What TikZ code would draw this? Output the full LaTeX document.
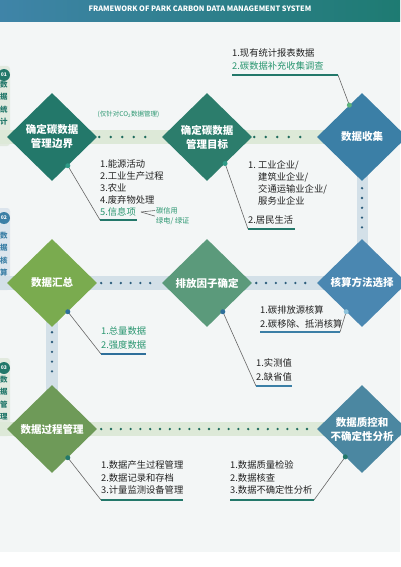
\documentclass[tikz,border=0pt]{standalone}
\usepackage{fontspec}
\setmainfont{Noto Sans CJK SC}
\usetikzlibrary{calc,positioning,shapes.geometric,backgrounds}
\definecolor{hdrL}{HTML}{3F84A8}
\definecolor{hdrR}{HTML}{1E7B72}
\definecolor{paper}{HTML}{F3F6F6}
\definecolor{tealA}{HTML}{23786A}
\definecolor{tealB}{HTML}{2C7D6C}
\definecolor{blueA}{HTML}{3B7FA6}
\definecolor{greenA}{HTML}{7AAB4F}
\definecolor{greenB}{HTML}{5B9A7B}
\definecolor{blueB}{HTML}{4A87B1}
\definecolor{greenC}{HTML}{6E9A58}
\definecolor{blueC}{HTML}{4B87A1}
\definecolor{bandG}{HTML}{DDE9D8}
\definecolor{bandB}{HTML}{D3E0E8}
\definecolor{tabG}{HTML}{E2EADF}
\definecolor{tabB}{HTML}{DCE5ED}
\definecolor{dotG}{HTML}{1E6B5C}
\definecolor{dotB}{HTML}{2C5D7C}
\definecolor{txtG}{HTML}{2A9670}
\definecolor{txtK}{HTML}{222222}
\definecolor{lineK}{HTML}{666666}
\definecolor{markG}{HTML}{5CB37C}
\definecolor{markT}{HTML}{2F9A86}
\definecolor{markB}{HTML}{2E6F9A}
\definecolor{markL}{HTML}{8FC3DB}
\tikzstyle{dia}=[diamond,minimum width=90pt,minimum height=88pt,inner sep=0pt,text=white,align=center,font=\fontsize{10.5}{14}\selectfont\bfseries]
\tikzstyle{band}=[line width=14pt]
\tikzstyle{vband}=[line width=12pt,draw=bandB]
\tikzstyle{dotrowA}=[line width=2.6pt,line cap=round,dash pattern=on 0pt off 11.5pt,shorten <=2pt,shorten >=6pt]
\tikzstyle{dotrowB}=[line width=2.6pt,line cap=round,dash pattern=on 0pt off 9.8pt,shorten <=4pt,shorten >=4pt]
\tikzstyle{item}=[anchor=north west,inner sep=0pt,align=left,text=txtK,font=\fontsize{9.3}{12.3}\selectfont]
\tikzstyle{sub}=[anchor=west,inner sep=1pt,text=txtG,font=\fontsize{7.2}{9}\selectfont]
\tikzstyle{uline}=[line width=2pt]
\tikzstyle{lead}=[draw=lineK,line width=0.6pt]
\tikzstyle{num}=[circle,minimum size=12pt,inner sep=0pt,text=white,font=\fontsize{5}{6}\selectfont\bfseries]
\tikzstyle{tabtxt}=[inner sep=0pt,align=center,font=\fontsize{7.5}{12.5}\selectfont\bfseries]

\begin{document}
\begin{tikzpicture}[x=1pt,y=-1pt]
\useasboundingbox (0,0) rectangle (400,567);

\node [dia,fill=tealA] (d1) at (52,137) {确定碳数据\\管理边界};
\node [dia,fill=tealB] (d2) [node distance=155pt,right of=d1] {确定碳数据\\管理目标};
\node [dia,fill=blueA] (d3) [node distance=155pt,right of=d2] {数据收集};
\node [dia,fill=greenA] (d4) [node distance=146pt,below of=d1] {数据汇总};
\node [dia,fill=greenB] (d5) [node distance=155pt,right of=d4] {排放因子确定};
\node [dia,fill=blueB] (d6) [node distance=155pt,right of=d5] {核算方法选择};
\node [dia,fill=greenC] (d7) [node distance=146pt,below of=d4] {数据过程管理};
\node [dia,fill=blueC] (d8) [node distance=310pt,right of=d7] {数据质控和\\不确定性分析};

\coordinate (l1) at (-5,137);
\coordinate (l2) at (-5,283);
\coordinate (l3) at (-5,429);

\begin{scope}[on background layer]
\fill [white] (0,0) rectangle (400,567);
\fill [paper] (0,22) rectangle (400,552);
\fill [tabG,rounded corners=3pt] (-12,66) rectangle (10,146);
\fill [tabB,rounded corners=3pt] (-12,208) rectangle (10,290);
\fill [tabG,rounded corners=3pt] (-12,358) rectangle (10,436);
\draw [band,draw=bandG] (l1) -- (d3.center);
\draw [vband,line width=11pt] (d3.center) -- (d6.center);
\draw [band,draw=bandB] (l2) -- (d6.center);
\draw [vband] (d4.center) -- (d7.center);
\draw [band,draw=bandG] (l3) -- (d8.center);
\end{scope}

\shade [left color=hdrL,right color=hdrR] (0,0) rectangle (400,22);
\node [text=white,font=\fontsize{7.4}{9}\selectfont\bfseries] (title) at (200,8.5) {FRAMEWORK OF PARK CARBON DATA MANAGEMENT SYSTEM};

\node [num,fill=tealA] (n1) at (4,75) {01};
\node [num,fill=blueA] (n2) at (4,218) {02};
\node [num,fill=tealA] (n3) at (4,368) {03};
\node [tabtxt,text=tealA] (s1) [node distance=28pt,below of=n1] {数\\据\\统\\计};
\node [tabtxt,text=blueA] (s2) [node distance=36pt,below of=n2] {数\\据\\核\\算};
\node [tabtxt,text=tealA] (s3) [node distance=30pt,below of=n3] {数\\据\\管\\理};

\draw [dotrowA,draw=dotG] (d1.east) -- (d2.west);
\draw [dotrowA,draw=dotG] (d2.east) -- (d3.west);
\draw [dotrowB,draw=dotB] (d4.east) -- (d5.west);
\draw [dotrowB,draw=dotB] (d5.east) -- (d6.west);
\draw [dotrowB,draw=dotG] (d7.east) -- (d8.west);
\draw [dotrowB,draw=dotB,shorten <=7pt] (d3.south) -- (d6.north);
\draw [dotrowB,draw=dotB,shorten <=5pt] (d4.south) -- (d7.north);

\node [text=txtG,font=\fontsize{6.5}{8}\selectfont] (note) at (128.5,114) {(仅针对CO\textsubscript{2}数据管理)};

\coordinate (p1) at ($(d1.south)!0.35!(d1.east)$);
\coordinate (u1a) at (100,220);
\coordinate (u1b) at (137,220);
\node [item,font=\fontsize{9.3}{12}\selectfont] (t1) at (100,159.7) {1.能源活动\\2.工业生产过程\\3.农业\\4.废弃物处理\\\textcolor{txtG}{5.信息项}};
\draw [lead] (p1) -- (u1a);
\draw [uline,draw=tealA] (u1a) -- (u1b);
\fill [markT] (p1) circle (2.5pt);
\coordinate (fk) at (141,212);
\node [sub] (cc) at (155,210.5) {碳信用};
\node [sub] (gc) at (155,221) {绿电/ 绿证};
\draw [lead] (fk) -- (cc.west);
\draw [lead] (fk) -- (gc.north west);

\coordinate (p2) at ($(d2.south)!0.4!(d2.east)$);
\coordinate (u2a) at (248,229);
\coordinate (u2b) at (295,229);
\node [item,font=\fontsize{9.3}{12}\selectfont] (t2) at (248,160.7) {1.\ 工业企业/\\\hspace*{10pt}建筑业企业/\\\hspace*{10pt}交通运输业企业/\\\hspace*{10pt}服务业企业\\[7pt]2.居民生活};
\draw [lead] (p2) -- (u2a);
\draw [uline,draw=tealA] (u2a) -- (u2b);
\fill [markT] (p2) circle (2.5pt);

\coordinate (p3) at ($(d3.west)!0.72!(d3.north)$);
\coordinate (u3a) at (232,75);
\coordinate (u3b) at (338,75);
\node [item,font=\fontsize{9.3}{13}\selectfont] (t3) at (232,48.7) {1.现有统计报表数据\\\textcolor{txtG}{2.碳数据补充收集调查}};
\draw [lead] (p3) -- (u3b);
\draw [uline,draw=tealA] (u3a) -- (u3b);
\fill [markG] (p3) circle (2.5pt);

\coordinate (p4) at ($(d4.south)!0.35!(d4.east)$);
\coordinate (u4a) at (101,354);
\coordinate (u4b) at (146,354);
\node [item,text=txtG,font=\fontsize{9.3}{14}\selectfont] (t4) at (101,326.7) {1.总量数据\\2.强度数据};
\draw [lead] (p4) -- (u4a);
\draw [uline,draw=markB] (u4a) -- (u4b);
\fill [markB] (p4) circle (2.5pt);

\coordinate (p5) at ($(d5.south)!0.35!(d5.east)$);
\coordinate (u5a) at (256,386);
\coordinate (u5b) at (292,386);
\node [item,font=\fontsize{9.3}{14}\selectfont] (t5) at (256,358.7) {1.实测值\\2.缺省值};
\draw [lead] (p5) -- (u5a);
\draw [uline,draw=blueA] (u5a) -- (u5b);
\fill [markB] (p5) circle (2.5pt);

\coordinate (p6) at ($(d6.south)!0.35!(d6.west)$);
\coordinate (u6a) at (260,332);
\coordinate (u6b) at (340,332);
\node [item,font=\fontsize{9.3}{14}\selectfont] (t6) at (260,305.7) {1.碳排放源核算\\2.碳移除、抵消核算};
\draw [lead] (p6) -- (u6b);
\draw [uline,draw=blueA] (u6a) -- (u6b);
\fill [markL] (p6) circle (2.5pt);

\coordinate (p7) at ($(d7.south)!0.35!(d7.east)$);
\coordinate (u7a) at (101,500);
\coordinate (u7b) at (183,500);
\node [item] (t7) at (101,460.7) {1.数据产生过程管理\\2.数据记录和存档\\3.计量监测设备管理};
\draw [lead] (p7) -- (u7a);
\draw [uline,draw=tealA] (u7a) -- (u7b);
\fill [tealA] (p7) circle (2.5pt);

\coordinate (p8) at ($(d8.south)!0.37!(d8.west)$);
\coordinate (u8a) at (230,500);
\coordinate (u8b) at (314,500);
\node [item] (t8) at (230,460.7) {1.数据质量检验\\2.数据核查\\3.数据不确定性分析};
\draw [lead] (p8) -- (u8b);
\draw [uline,draw=tealA] (u8a) -- (u8b);
\fill [tealA] (p8) circle (2.5pt);
\end{tikzpicture}
\end{document}
